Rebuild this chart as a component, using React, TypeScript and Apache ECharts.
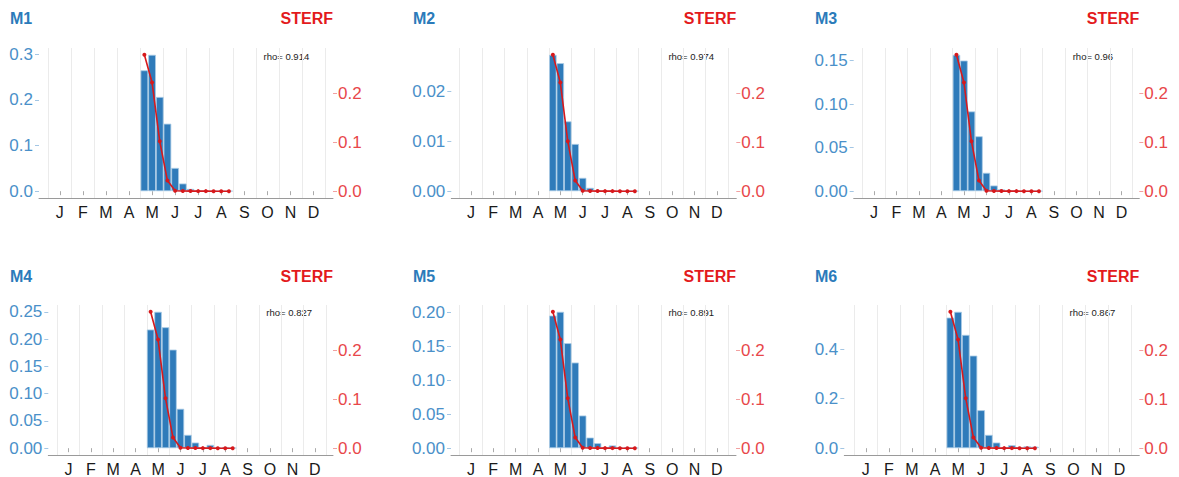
import React, { useEffect, useRef } from "react";
import * as echarts from "echarts";

// ---------------- data ----------------
const monthLabels = ["J", "F", "M", "A", "M", "J", "J", "A", "S", "O", "N", "D"];
const dekadsPerMonth = 3;
const firstDataDekad = 12; // 1st dekad of May

const modelNames = ["M1", "M2", "M3", "M4", "M5", "M6"];
const rhoValues = ["0.914", "0.974", "0.96", "0.827", "0.891", "0.867"];

// observed STERF (May d1 .. Aug d3)
const sterf = [0.278, 0.2215, 0.1016, 0.0217, 0.0008, 0.0003, 0.0002, 0.0001, 0.0001, 0, 0, 0];

// modelled (May d1 .. Aug d3)
const m1 = [0.265, 0.299, 0.2066, 0.148, 0.051, 0.0168, 0.005, 0.0012, 0.0008, 0.0005, 0.0003, 0.0002];
const m2 = [0.02734, 0.02567, 0.014, 0.00947, 0.00267, 0.00067, 0.0001, 0.00005, 0.00003, 0.00002, 0.00001, 0];
const m3 = [0.1568, 0.1502, 0.0917, 0.0631, 0.0211, 0.0065, 0.002, 0.0004, 0.0003, 0.0002, 0.0001, 0.0001];
const m4 = [0.2175, 0.25, 0.2217, 0.1807, 0.0722, 0.0244, 0.0103, 0.001, 0.006, 0.001, 0.002, 0.0005];
const m5 = [0.195, 0.2005, 0.1544, 0.1259, 0.048, 0.0156, 0.0074, 0.001, 0.004, 0.001, 0.0015, 0.0005];
const m6 = [0.5277, 0.551, 0.4578, 0.374, 0.1535, 0.0537, 0.0227, 0.003, 0.012, 0.004, 0.007, 0.006];
const modelSeries = [m1, m2, m3, m4, m5, m6];

// left-axis tick values / labels per model
const leftTicksM1 = [0, 0.1, 0.2, 0.3];
const leftLabelsM1 = ["0.0", "0.1", "0.2", "0.3"];
const leftTicksM2 = [0, 0.01, 0.02];
const leftLabelsM2 = ["0.00", "0.01", "0.02"];
const leftTicksM3 = [0, 0.05, 0.1, 0.15];
const leftLabelsM3 = ["0.00", "0.05", "0.10", "0.15"];
const leftTicksM4 = [0, 0.05, 0.1, 0.15, 0.2, 0.25];
const leftLabelsM4 = ["0.00", "0.05", "0.10", "0.15", "0.20", "0.25"];
const leftTicksM5 = [0, 0.05, 0.1, 0.15, 0.2];
const leftLabelsM5 = ["0.00", "0.05", "0.10", "0.15", "0.20"];
const leftTicksM6 = [0, 0.2, 0.4];
const leftLabelsM6 = ["0.0", "0.2", "0.4"];
const leftTicks = [leftTicksM1, leftTicksM2, leftTicksM3, leftTicksM4, leftTicksM5, leftTicksM6];
const leftLabels = [leftLabelsM1, leftLabelsM2, leftLabelsM3, leftLabelsM4, leftLabelsM5, leftLabelsM6];

const rightTicks = [0, 0.1, 0.2];
const rightLabels = ["0.0", "0.1", "0.2"];

// ---------------- layout / style ----------------
const FONT = '"Liberation Sans", Arial, Helvetica, sans-serif';
const BLUE = "#2b7bba";
const BLUE_LABEL = "#4a90c9";
const RED = "#e31a1c";
const RED_LABEL = "#e8474a";
const PLOT_H = 150;

const layout = [
  { ox: 0, top: 48, titleY: 18, rhoY: 56, ms: 48.3, me: 325, al: 39, ar: 333, titleX: 10 },
  { ox: 393, top: 48, titleY: 18, rhoY: 56, ms: 66.7, me: 335, al: 58.3, ar: 343.3, titleX: 20 },
  { ox: 786, top: 48, titleY: 18, rhoY: 56, ms: 76.7, me: 346.7, al: 67.7, ar: 353.3, titleX: 29 },
  { ox: 0, top: 305, titleY: 276, rhoY: 312.5, ms: 57.3, me: 326, al: 48.3, ar: 333, titleX: 10 },
  { ox: 393, top: 305, titleY: 276, rhoY: 312.5, ms: 66.7, me: 335, al: 58, ar: 343, titleX: 20 },
  { ox: 786, top: 305, titleY: 276, rhoY: 312.5, ms: 68.3, me: 345, al: 58.3, ar: 353.3, titleX: 29 },
];
const rhoDekad = 28;

function buildOption() {
  const nDekads = monthLabels.length * dekadsPerMonth;
  const dekadCats = Array.from({ length: nDekads }, (_, i) => String(i));
  const toFull = (vals: number[]) =>
    dekadCats.map((_, i) => {
      const k = i - firstDataDekad;
      return k >= 0 && k < vals.length ? vals[k] : null;
    });

  const grid: any[] = [];
  const xAxis: any[] = [];
  const yAxis: any[] = [];
  const series: any[] = [];
  const graphic: any[] = [];

  const sterfMax = Math.max(...sterf);

  modelNames.forEach((name, i) => {
    const L = layout[i];
    const vals = modelSeries[i];
    const vMax = Math.max(...vals);

    const dataGrid = grid.length;
    grid.push({ left: L.ox + L.ms, top: L.top, width: L.me - L.ms, height: PLOT_H });
    const frameGrid = grid.length;
    grid.push({ left: L.ox + L.al, top: L.top, width: L.ar - L.al, height: PLOT_H });

    const dekadX = xAxis.length;
    xAxis.push({
      type: "category", gridIndex: dataGrid, data: dekadCats, position: "top", show: false, boundaryGap: true,
    });
    xAxis.push({
      type: "category", gridIndex: dataGrid, data: monthLabels, position: "bottom", boundaryGap: true,
      axisLine: { show: false },
      axisTick: { show: true, alignWithLabel: true, length: 4, lineStyle: { color: "#aaaaaa" } },
      axisLabel: { interval: 0, margin: 6, fontSize: 16, color: "#1a1a1a", fontFamily: FONT },
      splitLine: { show: true, interval: 0, lineStyle: { color: "#ebebeb", width: 1 } },
    });
    const frameX = xAxis.length;
    xAxis.push({
      type: "value", gridIndex: frameGrid, min: 0, max: 1, position: "bottom",
      axisLine: { show: true, lineStyle: { color: "#9a9a9a", width: 1 } },
      axisTick: { show: false }, axisLabel: { show: false }, splitLine: { show: false },
    });

    const lt = leftTicks[i];
    const ll = leftLabels[i];
    const leftY = yAxis.length;
    yAxis.push({
      type: "value", gridIndex: dataGrid, position: "left", offset: L.ms - L.al,
      min: -0.05 * vMax, max: 1.05 * vMax,
      axisLine: { show: false },
      axisTick: { show: true, length: 4, customValues: lt, lineStyle: { color: "#a3c6e4" } },
      axisLabel: {
        customValues: lt, margin: 6, fontSize: 17, color: BLUE_LABEL, fontFamily: FONT,
        formatter: (v: number) => {
          let best = 0;
          lt.forEach((t, k) => { if (Math.abs(t - v) < Math.abs(lt[best] - v)) best = k; });
          return ll[best];
        },
      },
      splitLine: { show: false },
    });
    const rightY = yAxis.length;
    yAxis.push({
      type: "value", gridIndex: dataGrid, position: "right", offset: L.ar - L.me,
      min: -0.05 * sterfMax, max: 1.05 * sterfMax,
      axisLine: { show: false },
      axisTick: { show: true, length: 4, customValues: rightTicks, lineStyle: { color: "#f2a0a0" } },
      axisLabel: {
        customValues: rightTicks, margin: 5, fontSize: 17, color: RED_LABEL, fontFamily: FONT,
        formatter: (v: number) => {
          let best = 0;
          rightTicks.forEach((t, k) => { if (Math.abs(t - v) < Math.abs(rightTicks[best] - v)) best = k; });
          return rightLabels[best];
        },
      },
      splitLine: { show: false },
    });
    const frameY = yAxis.length;
    yAxis.push({ type: "value", gridIndex: frameGrid, min: 0, max: 1, show: false });

    series.push({
      type: "bar", name: name, xAxisIndex: dekadX, yAxisIndex: leftY, data: toFull(vals),
      barWidth: "100%", silent: true, z: 2,
      itemStyle: { color: "#2f7bba", borderColor: "#a9cbe6", borderWidth: 0.8 },
    });
    series.push({
      type: "line", name: "STERF", xAxisIndex: dekadX, yAxisIndex: rightY, data: toFull(sterf),
      symbol: "circle", symbolSize: 4, showSymbol: true, silent: true, z: 3,
      itemStyle: { color: "#d7191c" }, lineStyle: { color: "#d7191c", width: 1.6 },
    });
    // empty series so frame grid axes render
    series.push({ type: "line", xAxisIndex: frameX, yAxisIndex: frameY, data: [], silent: true });

    graphic.push({
      type: "text", x: L.ox + L.titleX, y: L.titleY,
      style: { text: name, fill: BLUE, font: `bold 16px ${FONT}`, align: "left", verticalAlign: "middle", textAlign: "left", textVerticalAlign: "middle" },
    });
    graphic.push({
      type: "text", x: L.ox + L.ar, y: L.titleY,
      style: { text: "STERF", fill: RED, font: `bold 16px ${FONT}`, align: "right", verticalAlign: "middle", textAlign: "right", textVerticalAlign: "middle" },
    });
    const rhoX = L.ox + L.ms + (rhoDekad / nDekads) * (L.me - L.ms);
    graphic.push({
      type: "text", x: rhoX, y: L.rhoY,
      style: { text: "rho= " + rhoValues[i], fill: "#222222", font: `9.5px ${FONT}`, align: "left", verticalAlign: "middle", textAlign: "left", textVerticalAlign: "middle" },
    });
  });

  return {
    animation: false,
    backgroundColor: "#ffffff",
    textStyle: { fontFamily: FONT },
    grid, xAxis, yAxis, series, graphic,
  };
}

export default function App() {
  const ref = useRef<HTMLDivElement>(null);
  useEffect(() => {
    if (!ref.current) return;
    const chart = echarts.init(ref.current, null, { renderer: "svg" });
    chart.setOption(buildOption() as any);
    return () => chart.dispose();
  }, []);
  return (
    <div
      ref={ref}
      style={{ position: "absolute", left: 0, top: 0, width: 1179, height: 477, background: "#fff" }}
    />
  );
}
